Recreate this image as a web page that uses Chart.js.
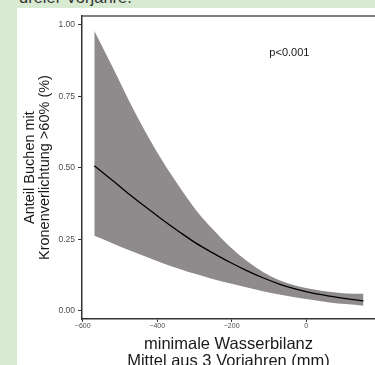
<!DOCTYPE html>
<html>
<head>
<meta charset="utf-8">
<script src="https://cdn.jsdelivr.net/npm/chart.js@4/dist/chart.umd.min.js"></script>
<style>
  html, body { margin: 0; padding: 0; width: 375px; height: 365px; overflow: hidden; background: #d9ead3; }
  .caption { position: absolute; left: 19px; top: -12px; font: 16.5px "Liberation Sans", Arial, sans-serif; color: #333; white-space: nowrap; }
  .panel { position: absolute; left: 17px; top: 8px; width: 358px; height: 357px; background: #fff; overflow: hidden; }
  canvas { display: block; }
</style>
</head>
<body>
<div class="caption">dreier Vorjahre.</div>
<div class="panel"><canvas id="fitChart" width="358" height="365"></canvas></div>
<script>
// fitted proportion vs. minimal water balance, with confidence band
const waterBalance = [-569, -519, -475, -430, -385, -340, -296, -251, -206, -161, -116, -72, -27, 18, 63, 107, 154];
const fitted =       [0.507, 0.455, 0.408, 0.362, 0.318, 0.276, 0.237, 0.203, 0.171, 0.142, 0.116, 0.094, 0.076, 0.062, 0.052, 0.043, 0.035];
const upperBand =    [0.979, 0.850, 0.733, 0.622, 0.522, 0.433, 0.353, 0.286, 0.226, 0.176, 0.136, 0.107, 0.088, 0.076, 0.067, 0.061, 0.060];
const lowerBand =    [0.263, 0.236, 0.212, 0.189, 0.167, 0.147, 0.129, 0.112, 0.097, 0.083, 0.069, 0.058, 0.047, 0.038, 0.030, 0.024, 0.018];

const xTicks = [-600, -400, -200, 0];
const yTicks = [0, 0.25, 0.5, 0.75, 1];
const pLabel = { text: "p<0.001", x: -45, y: 0.9 };

const FONT = '"Liberation Sans", Arial, sans-serif';
const toPoints = ys => waterBalance.map((x, i) => ({ x: x, y: ys[i] }));

// draws the p-value label in data coordinates
const pValuePlugin = {
    id: "pValue",
    afterDatasetsDraw(chart) {
        const { ctx, scales } = chart;
        ctx.save();
        ctx.font = "11px " + FONT;
        ctx.fillStyle = "#1a1a1a";
        ctx.textAlign = "center";
        ctx.textBaseline = "middle";
        ctx.fillText(pLabel.text, scales.x.getPixelForValue(pLabel.x), scales.y.getPixelForValue(pLabel.y));
        ctx.restore();
    }
};

const ctx = document.getElementById("fitChart").getContext("2d");
new Chart(ctx, {
    type: "line",
    data: {
        datasets: [
            {
                label: "lower",
                data: toPoints(lowerBand),
                order: 2,
                borderWidth: 0,
                pointRadius: 0,
                fill: false,
                cubicInterpolationMode: "monotone"
            },
            {
                label: "upper",
                data: toPoints(upperBand),
                order: 1,
                borderWidth: 0,
                pointRadius: 0,
                backgroundColor: "#8f8b8c",
                fill: "-1",
                cubicInterpolationMode: "monotone"
            },
            {
                // fit line sits on top of the band
                label: "fit",
                data: toPoints(fitted),
                order: 0,
                borderColor: "#000",
                borderWidth: 1.3,
                pointRadius: 0,
                fill: false,
                cubicInterpolationMode: "monotone"
            }
        ]
    },
    options: {
        responsive: false,
        animation: false,
        devicePixelRatio: 1,
        layout: { padding: { top: 5, right: 0, left: 0, bottom: 0 } },
        plugins: { legend: { display: false }, tooltip: { enabled: false } },
        scales: {
            x: {
                type: "linear",
                min: -602,
                max: 185,
                afterBuildTicks: s => { s.ticks = xTicks.map(v => ({ value: v })); },
                afterFit: s => { s.height = 54; },
                ticks: {
                    color: "#4d4d4d",
                    font: { family: FONT, size: 7 },
                    padding: 0,
                    maxRotation: 0,
                    callback: v => (v < 0 ? "\u2212" + Math.abs(v) : String(v))
                },
                grid: { drawOnChartArea: false, drawTicks: true, tickLength: 3, color: "#333" },
                border: { color: "#333", width: 1.5 },
                title: {
                    display: true,
                    text: ["minimale Wasserbilanz", "Mittel aus 3 Vorjahren (mm)"],
                    color: "#1a1a1a",
                    font: { family: FONT, size: 16.5, lineHeight: 1.06 },
                    padding: { top: 0, bottom: 2.5 }
                }
            },
            x2: {
                type: "linear",
                position: "top",
                afterFit: s => { s.height = 0; },
                ticks: { display: false },
                grid: { display: false },
                border: { color: "#808080", width: 2 }
            },
            y: {
                min: -0.028,
                max: 1.03,
                afterBuildTicks: s => { s.ticks = yTicks.map(v => ({ value: v })); },
                afterFit: s => { s.width = 65; },
                ticks: {
                    color: "#4d4d4d",
                    font: { family: FONT, size: 8.5 },
                    padding: 3,
                    callback: v => v.toFixed(2)
                },
                grid: { drawOnChartArea: false, drawTicks: true, tickLength: 4, color: "#333" },
                border: { color: "#333", width: 1.5 },
                title: {
                    display: true,
                    text: ["Anteil Buchen mit", "Kronenverlichtung >60% (%)"],
                    color: "#1a1a1a",
                    font: { family: FONT, size: 14.5, lineHeight: 1.07 },
                    padding: { top: 4.75, bottom: 0 }
                }
            }
        }
    },
    plugins: [pValuePlugin]
});
</script>
</body>
</html>
